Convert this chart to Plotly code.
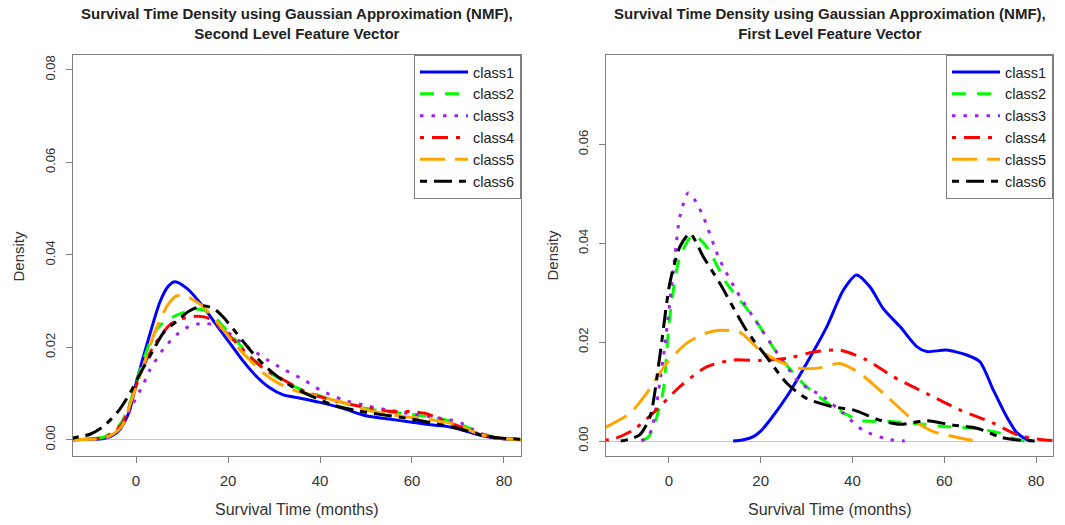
import plotly.graph_objects as go

# ---------------- data ----------------
class_names = ["class1", "class2", "class3", "class4", "class5", "class6"]

# Left panel: Second Level Feature Vector
left_x = {
    "class1": [-14, -10, -7, -5, -3.5, -1.5, 0.1, 3, 5.2, 7, 8.5, 11, 14.6, 17.5, 20.4, 23.3, 26.2, 29, 32, 35.7, 40, 45, 50, 55, 60, 64.6, 67, 70, 74, 78, 84],
    "class2": [-14, -10, -7, -5, -3, -1, 1, 3.8, 6, 9, 13.2, 16, 19, 22, 25, 28, 32, 36, 40, 45, 50, 55, 60, 65, 70, 74, 78, 84],
    "class3": [-14, -10, -7, -5, -3, -0.6, 1.5, 3, 6, 8.8, 11.5, 14.6, 17, 20, 23, 26.2, 29, 32, 36.4, 40, 45.1, 50, 54.5, 60, 64, 68.3, 71, 73.3, 76, 79, 84],
    "class4": [-14, -10, -7, -5, -3, -1, 1, 3.8, 7.4, 10, 13.2, 16, 19, 22, 25, 28, 32, 36.8, 40, 45, 50, 55, 59.6, 63, 66, 70, 74, 78, 84],
    "class5": [-14, -10, -7, -5, -3, -1, 1.6, 4.5, 7, 8.8, 11, 14.3, 18, 21.9, 24.8, 27.7, 31, 35, 41.4, 46, 50, 55, 60, 65, 70, 74, 78, 84],
    "class6": [-14, -12.2, -10, -7.1, -4, -1.3, 1, 3.8, 6, 8.8, 11.5, 14.6, 17, 19, 21.9, 25, 28, 31, 34, 38, 42.9, 48, 53, 58, 64.6, 69.9, 74.8, 78, 84],
}
left_y = {
    "class1": [0, 0.0001, 0.0003, 0.001, 0.0022, 0.006, 0.0125, 0.0228, 0.0298, 0.0332, 0.0342, 0.0328, 0.0288, 0.0248, 0.0209, 0.017, 0.0137, 0.0113, 0.0097, 0.009, 0.0081, 0.0068, 0.0052, 0.0045, 0.0038, 0.0032, 0.003, 0.0024, 0.0012, 0.0004, 0.0],
    "class2": [0, 0.0002, 0.0006, 0.0018, 0.004, 0.009, 0.0155, 0.0228, 0.0255, 0.027, 0.0283, 0.0275, 0.0245, 0.0212, 0.0178, 0.0152, 0.0128, 0.0108, 0.0095, 0.008, 0.0068, 0.006, 0.0055, 0.0048, 0.0036, 0.0018, 0.0005, 0.0],
    "class3": [0, 0.0001, 0.0004, 0.001, 0.0035, 0.0079, 0.0118, 0.0151, 0.0197, 0.0227, 0.0245, 0.0252, 0.0248, 0.0232, 0.021, 0.0188, 0.017, 0.0153, 0.013, 0.0108, 0.0086, 0.0074, 0.0065, 0.0056, 0.005, 0.0043, 0.0035, 0.0022, 0.001, 0.0003, 0.0],
    "class4": [0, 0.0002, 0.0005, 0.0015, 0.0035, 0.0085, 0.0145, 0.0202, 0.0249, 0.0262, 0.0267, 0.0262, 0.0238, 0.0208, 0.0178, 0.0152, 0.013, 0.0104, 0.0093, 0.008, 0.007, 0.0062, 0.0061, 0.0057, 0.0045, 0.003, 0.0015, 0.0005, 0.0001],
    "class5": [0, 0.0001, 0.0004, 0.0012, 0.003, 0.0085, 0.016, 0.0243, 0.0293, 0.0311, 0.031, 0.029, 0.025, 0.0202, 0.0172, 0.0144, 0.0122, 0.0105, 0.009, 0.0078, 0.0065, 0.0055, 0.0048, 0.0042, 0.0032, 0.0014, 0.0004, 0.0],
    "class6": [0.0003, 0.0007, 0.0012, 0.0029, 0.006, 0.0101, 0.0145, 0.0195, 0.0232, 0.0256, 0.0278, 0.029, 0.0283, 0.0265, 0.023, 0.0192, 0.016, 0.0135, 0.0115, 0.0095, 0.0075, 0.0063, 0.0055, 0.0048, 0.0036, 0.0025, 0.0011, 0.0005, 0.0001],
}

# Right panel: First Level Feature Vector
right_x = {
    "class1": [14, 16, 18.4, 20, 22, 25.7, 30, 34.4, 38, 40.9, 43.8, 46.7, 50.4, 54, 56.2, 60.5, 64.9, 67.8, 70.7, 73.6, 75.8, 78, 79],
    "class2": [-6, -4.5, -3.6, -2.3, -1.2, 0.2, 2.4, 5.3, 8.2, 12.6, 18.4, 24.2, 30, 35.8, 41.6, 47.5, 53.3, 59.1, 66.3, 72.2, 75.8, 77.5],
    "class3": [-6, -4.8, -3.8, -1.2, 1.3, 2.4, 4.2, 5.5, 7.5, 11.1, 15.5, 19.8, 24.2, 28.6, 33.6, 38, 42.3, 47.5, 51.4],
    "class4": [-14, -12.1, -7.8, -2.7, 2.4, 8.2, 14, 19.8, 25.7, 31.5, 37.3, 43.1, 48.9, 56.2, 63.4, 70.7, 75.8, 80.9, 84],
    "class5": [-14, -8.5, -4.9, -0.5, 3.9, 8, 11.1, 15.5, 19.8, 24.2, 28.6, 32.9, 37.3, 41.6, 47.5, 53.3, 57.6, 62, 65, 67.1],
    "class6": [-10.5, -8.5, -6.3, -4.1, -2, 0.2, 2.4, 4.6, 7.5, 11.1, 16.9, 21.3, 25.7, 30, 35.8, 40.2, 46, 50.4, 56.2, 62, 67.1, 72.2, 75.1, 80.1],
}
right_y = {
    "class1": [0, 0.0002, 0.0009, 0.002, 0.0042, 0.009, 0.0157, 0.0231, 0.0305, 0.0336, 0.0312, 0.0268, 0.0231, 0.0191, 0.0181, 0.0184, 0.0174, 0.016, 0.0103, 0.0049, 0.0017, 0.0003, 0],
    "class2": [0, 0.0008, 0.0022, 0.006, 0.0103, 0.0251, 0.0373, 0.0417, 0.0393, 0.0319, 0.0251, 0.017, 0.011, 0.0069, 0.0042, 0.004, 0.0036, 0.003, 0.0026, 0.0016, 0.0003, 0],
    "class3": [0, 0.0008, 0.0022, 0.017, 0.0373, 0.0454, 0.0502, 0.049, 0.0454, 0.0366, 0.0292, 0.0231, 0.017, 0.0117, 0.009, 0.0056, 0.0022, 0.0004, 0],
    "class4": [0.0002, 0.0004, 0.0022, 0.0063, 0.011, 0.015, 0.0164, 0.0163, 0.0167, 0.018, 0.0184, 0.0164, 0.013, 0.0096, 0.0063, 0.0036, 0.0013, 0.0003, 0.0001],
    "class5": [0.0027, 0.0056, 0.0096, 0.0157, 0.0198, 0.0218, 0.0224, 0.022, 0.0184, 0.016, 0.0147, 0.0148, 0.0157, 0.0137, 0.009, 0.0042, 0.0019, 0.0009, 0.0003, 0],
    "class6": [0, 0.0004, 0.0013, 0.0049, 0.017, 0.0319, 0.0393, 0.042, 0.0373, 0.0319, 0.0224, 0.017, 0.0117, 0.0086, 0.0069, 0.0063, 0.0042, 0.0034, 0.0041, 0.0032, 0.0026, 0.0008, 0.0003, 0],
}

x_ticks = [0, 20, 40, 60, 80]
left_y_ticks = [0.00, 0.02, 0.04, 0.06, 0.08]
right_y_ticks = [0.00, 0.02, 0.04, 0.06]

titles = [
    "Survival Time Density using Gaussian Approximation (NMF),<br>Second Level Feature Vector",
    "Survival Time Density using Gaussian Approximation (NMF),<br>First Level Feature Vector",
]
x_title = "Survival Time (months)"
y_title = "Density"

# ---------------- styles ----------------
colors = {"class1": "#0000FF", "class2": "#00FF00", "class3": "#A020F0",
          "class4": "#FF0000", "class5": "#FFA500", "class6": "#000000"}
dashes = {"class1": "solid", "class2": "14px,11px", "class3": "3.5px,8px",
          "class4": "4px,8px,16px,8px", "class5": "25px,10px", "class6": "7px,7px,18px,7px"}

FONT = "Liberation Sans, Arial, sans-serif"
fig = go.Figure()

for name in class_names:
    fig.add_trace(go.Scatter(
        x=left_x[name], y=left_y[name], mode="lines", name=name,
        line=dict(color=colors[name], width=3, dash=dashes[name], shape="spline", smoothing=0.7),
        xaxis="x", yaxis="y", legend="legend", hoverinfo="skip"))
for name in class_names:
    fig.add_trace(go.Scatter(
        x=right_x[name], y=right_y[name], mode="lines", name=name,
        line=dict(color=colors[name], width=3, dash=dashes[name], shape="spline", smoothing=0.7),
        xaxis="x2", yaxis="y2", legend="legend2", hoverinfo="skip"))

W, H = 1065, 525
Lx = [73 / W, 521 / W]
Rx = [606 / W, 1053 / W]
Yd = [(H - 456) / H, (H - 55) / H]

axis_common = dict(
    showline=True, mirror=True, linecolor="#7f7f7f", linewidth=1,
    showgrid=False, ticks="outside", ticklen=6, tickcolor="#7f7f7f", tickwidth=1,
    fixedrange=True,
)
xaxis_common = dict(axis_common, tickvals=x_ticks, range=[-13.7, 83.7], zeroline=False,
                    tickfont=dict(family=FONT, size=15, color="#333333"), ticklabelstandoff=5)
yaxis_common = dict(axis_common, tickformat=".2f", tickangle=-90, zeroline=True,
                    zerolinecolor="#c8c8c8", zerolinewidth=1,
                    tickfont=dict(family=FONT, size=13, color="#333333"), ticklabelstandoff=6)

legend_common = dict(
    xanchor="right", yanchor="top", bgcolor="white", bordercolor="#7f7f7f", borderwidth=1,
    font=dict(family=FONT, size=14.5, color="#222222"), tracegroupgap=0,
    itemwidth=48,
)

fig.update_layout(
    width=W, height=H, margin=dict(l=0, r=0, t=0, b=0),
    paper_bgcolor="white", plot_bgcolor="white",
    font=dict(family=FONT),
    xaxis=dict(xaxis_common, domain=Lx, anchor="y"),
    yaxis=dict(yaxis_common, domain=Yd, anchor="x", range=[-0.0035, 0.0832], tickvals=left_y_ticks),
    xaxis2=dict(xaxis_common, domain=Rx, anchor="y2"),
    yaxis2=dict(yaxis_common, domain=Yd, anchor="x2", range=[-0.00303, 0.0781], tickvals=right_y_ticks),
    legend=dict(legend_common, x=Lx[1], y=Yd[1]),
    legend2=dict(legend_common, x=Rx[1], y=Yd[1]),
    showlegend=True,
)

annotations = []
for dom, t, ytx in [(Lx, titles[0], 18 / W), (Rx, titles[1], 552 / W)]:
    cx = (dom[0] + dom[1]) / 2
    annotations.append(dict(text="<b>" + t + "</b>", x=cx, y=1 - 24 / H, xref="paper", yref="paper",
                            xanchor="center", yanchor="middle", showarrow=False,
                            font=dict(family=FONT, size=15, color="#222222")))
    annotations.append(dict(text=x_title, x=cx, y=1 - 509 / H, xref="paper", yref="paper",
                            xanchor="center", yanchor="middle", showarrow=False,
                            font=dict(family=FONT, size=16, color="#333333")))
    annotations.append(dict(text=y_title, x=ytx, y=(Yd[0] + Yd[1]) / 2, xref="paper", yref="paper",
                            xanchor="center", yanchor="middle", showarrow=False, textangle=-90,
                            font=dict(family=FONT, size=15, color="#333333")))
fig.update_layout(annotations=annotations)

fig.write_html("out.html")
